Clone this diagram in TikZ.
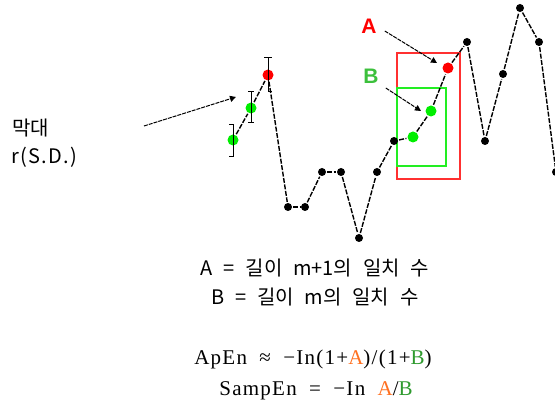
\documentclass[tikz,border=0pt]{standalone}
\usepackage{fontspec}
\setmainfont{Liberation Serif}
\newfontfamily\kr[WordSpace=2.4]{Noto Sans CJK KR}
\newfontfamily\krwide[LetterSpace=7]{Noto Sans CJK KR}
\newfontfamily\lblfont{Liberation Sans}
\newfontfamily\fml[LetterSpace=6,WordSpace=1.9]{Liberation Serif}
\usetikzlibrary{arrows.meta}
\definecolor{ptred}{HTML}{FF0000}
\definecolor{ptgreen}{HTML}{00EE00}
\definecolor{boxred}{HTML}{FF3030}
\definecolor{boxgreen}{HTML}{22EE22}
\definecolor{lblgreen}{HTML}{3CC03C}
\definecolor{fA}{HTML}{FF7020}
\definecolor{fB}{HTML}{2E9A2E}
\tikzset{
  pt/.style={circle,fill=black,inner sep=0pt,minimum size=8pt},
  ptr/.style={circle,fill=ptred,inner sep=0pt,minimum size=11pt},
  ptg/.style={circle,fill=ptgreen,inner sep=0pt,minimum size=11pt},
  seg/.style={line width=1.4pt,dash pattern=on 5pt off 1.5pt,shorten >=1pt,shorten <=1pt},
  ebar/.style={line width=1pt},
  callout/.style={line width=1pt,dash pattern=on 4pt off 1pt,-{Triangle[length=6pt,width=6pt]}},
  krtext/.style={font=\kr\fontsize{20}{22}\selectfont,inner sep=0pt},
  fmtext/.style={font=\fml\fontsize{21}{24}\selectfont,inner sep=0pt},
  lbl/.style={font=\lblfont\bfseries\fontsize{21}{24}\selectfont,inner sep=0pt},
}
\begin{document}
\begin{tikzpicture}[x=1pt,y=-1pt]
\useasboundingbox (0,0) rectangle (555,406);
% boxes
\draw[boxred,line width=1.2pt] (397,53) rectangle (460,179);
\draw[boxgreen,line width=1.2pt] (397,88) rectangle (446,166);
% points
\node[ptg] (p1) at (233,140) {};
\node[ptg] (p2) at (251,108) {};
\node[ptr] (p3) at (268,75) {};
\node[pt] (p4) at (288,207) {};
\node[pt] (p5) at (305,207) {};
\node[pt] (p6) at (322,172) {};
\node[pt] (p7) at (341,172) {};
\node[pt] (p8) at (359,238) {};
\node[pt] (p9) at (377,172) {};
\node[pt] (p10) at (394,141) {};
\node[ptg] (p11) at (413,137) {};
\node[ptg] (p12) at (431,111) {};
\node[ptr] (p13) at (448,68) {};
\node[pt] (p14) at (467,42) {};
\node[pt] (p15) at (485,141) {};
\node[pt] (p16) at (503,74) {};
\node[pt] (p17) at (520,8) {};
\node[pt] (p18) at (539,42) {};
\node[pt] (p19) at (556,172) {};
\foreach \a/\b in {p1/p2,p2/p3,p3/p4,p4/p5,p5/p6,p6/p7,p7/p8,p8/p9,p9/p10,p10/p11,p11/p12,p12/p13,p13/p14,p14/p15,p15/p16,p16/p17,p17/p18,p18/p19}
  \draw[seg] (\a) -- (\b);
% error bars
\draw[ebar] ([xshift=-4pt,yshift=17pt]p3.center) -- ++(8pt,0);
\draw[ebar] ([yshift=17pt]p3.center) -- ([yshift=-17pt]p3.center) -- ++(4pt,0);
\draw[ebar] ([xshift=-3pt,yshift=16pt]p2.center) -- ++(6pt,0);
\draw[ebar] ([yshift=16pt]p2.center) -- ([yshift=-15pt]p2.center);
\draw[ebar] ([xshift=-3pt,yshift=-15pt]p2.center) -- ++(6pt,0);
\draw[ebar] ([xshift=-4pt,yshift=15pt]p1.center) -- ([yshift=15pt]p1.center) -- ([yshift=-17pt]p1.center) -- ++(-4pt,0);
% labels
\node[lbl,text=ptred] (la) at (369,26) {A};
\node[lbl,text=lblgreen] (lb) at (371,76) {B};
\coordinate (ta) at (437,63);
\coordinate (tb) at (421,111);
\draw[callout] ([xshift=8pt,yshift=-5pt]la.east) -- (ta);
\draw[callout] ([xshift=7pt,yshift=-12pt]lb.east) -- (tb);
% left label
\node[krtext,anchor=west] (l1) at (12,128) {막대};
\node[krtext,font=\krwide\fontsize{20}{22}\selectfont,anchor=west] (l2) at (11,157) {r(S.D.)};
\coordinate (lt) at (236,97);
\coordinate (ls) at (144,126);
\draw[callout] (ls) -- (lt);
% bottom text
\node[krtext] (t1) at (315,268) {A = 길이 m+1의 일치 수};
\node[krtext] (t2) at (315,297) {B = 길이 m의 일치 수};
\node[fmtext] (f1) at (313,359) {ApEn ≈ −In(1+\textcolor{fA}{A})/(1+\textcolor{fB}{B})};
\node[fmtext] (f2) at (316,391) {SampEn = −In \textcolor{fA}{A}/\textcolor{fB}{B}};
\end{tikzpicture}
\end{document}
